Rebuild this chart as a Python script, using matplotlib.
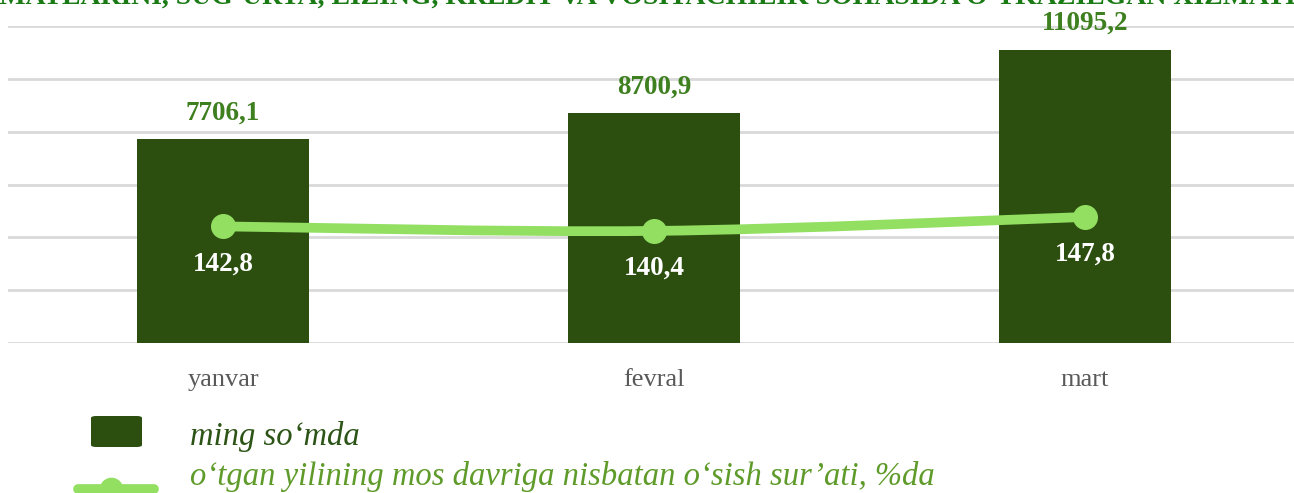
import numpy as np
import matplotlib as mpl
mpl.use('Agg')
import matplotlib.pyplot as plt
from matplotlib.path import Path
from matplotlib.patches import PathPatch, FancyBboxPatch
from matplotlib.lines import Line2D

months = ['yanvar', 'fevral', 'mart']
amounts = [7706.1, 8700.9, 11095.2]          # ming so'mda
growth = [142.8, 140.4, 147.8]               # %da
bar_label = 'ming so\u2018mda'
line_label = 'o\u2018tgan yilining mos davriga nisbatan o\u2018sish sur\u2019ati, %da'
title = ('XIZMATLARINI, SUG\u2018URTA, LIZING, KREDIT VA VOSITACHILIK SOHASIDA '
         'O\u2018TKAZILGAN XIZMATLAR')

bar_color = '#2c4f10'
line_color = '#92df62'
label_green = '#3e7f1f'

plt.rcParams['font.family'] = 'Liberation Serif'

fig = plt.figure(figsize=(12.94, 4.93), dpi=100)
ax = fig.add_axes([7.5 / 1294, 150 / 493, 1293 / 1294, 317 / 493])

x = np.arange(len(months))
ax.bar(x, amounts, width=0.4, color=bar_color, zorder=2)
ax.set_xlim(-0.5, 2.5)
ax.set_ylim(0, 12000)
ax.set_yticks(np.arange(0, 12001, 2000))
ax.yaxis.grid(True, color='#d9d9d9', linewidth=2, zorder=0)
ax.set_axisbelow(True)
for s in ax.spines.values():
    s.set_visible(False)
ax.set_xticks(x)
ax.set_xticklabels(months, fontsize=19, color='#595959')

for xi, v in zip(x, amounts):
    ax.annotate(f'{v:.1f}'.replace('.', ','), (xi, v), xytext=(0, 10),
                textcoords='offset points', ha='center', va='bottom',
                fontsize=19.5, fontweight='bold', color=label_green)

# smoothed line on secondary axis
ax2 = ax.twinx()
ax2.set_ylim(81, 249)
ax2.set_axis_off()
ax.tick_params(left=False, labelleft=False, right=False, bottom=False)
ax.tick_params(axis='x', pad=15)

pts = list(zip(x, growth))
verts = [pts[0]]
codes = [Path.MOVETO]
for i in range(len(pts) - 1):
    p0 = pts[i - 1] if i > 0 else pts[i]
    p1, p2 = pts[i], pts[i + 1]
    p3 = pts[i + 2] if i + 2 < len(pts) else pts[i + 1]
    c1 = (p1[0] + (p2[0] - p0[0]) / 6, p1[1] + (p2[1] - p0[1]) / 6)
    c2 = (p2[0] - (p3[0] - p1[0]) / 6, p2[1] - (p3[1] - p1[1]) / 6)
    verts += [c1, c2, p2]
    codes += [Path.CURVE4] * 3
ax2.add_patch(PathPatch(Path(verts, codes), facecolor='none',
                        edgecolor=line_color, linewidth=7, capstyle='round',
                        zorder=3))
ax2.plot(x, growth, 'o', color=line_color, markersize=17, zorder=4)
for xi, v in zip(x, growth):
    ax2.annotate(f'{v:.1f}'.replace('.', ','), (xi, v), xytext=(0, -27),
                 textcoords='offset points', ha='center', va='center',
                 fontsize=19.5, fontweight='bold', color='white', zorder=5)

# title, cropped at the top as in the source
fig.text(0.5, 1 - 10 / 493, title, ha='center', va='bottom', fontsize=20,
         fontweight='bold', color='#1a7a14')

# legend
fig.patches.append(FancyBboxPatch((91 / 1294, 1 - 447 / 493), 51 / 1294, 31 / 493,
                                  boxstyle='round,pad=0,rounding_size=0.004',
                                  transform=fig.transFigure, facecolor=bar_color,
                                  edgecolor='none'))
fig.lines.append(Line2D([78 / 1294, 154 / 1294], [1 - 489 / 493] * 2,
                        transform=fig.transFigure, color=line_color, linewidth=7,
                        solid_capstyle='round'))
fig.lines.append(Line2D([111 / 1294], [1 - 489 / 493], transform=fig.transFigure,
                        marker='o', color=line_color, markersize=16))
fig.text(190 / 1294, 1 - 436 / 493, bar_label, ha='left', va='center',
         fontsize=23.5, style='italic', color='#2d5417')
fig.text(190 / 1294, 1 - 477 / 493, line_label, ha='left', va='center',
         fontsize=23.5, style='italic', color='#5f9b2a')

fig.savefig('out.png', dpi=100)
